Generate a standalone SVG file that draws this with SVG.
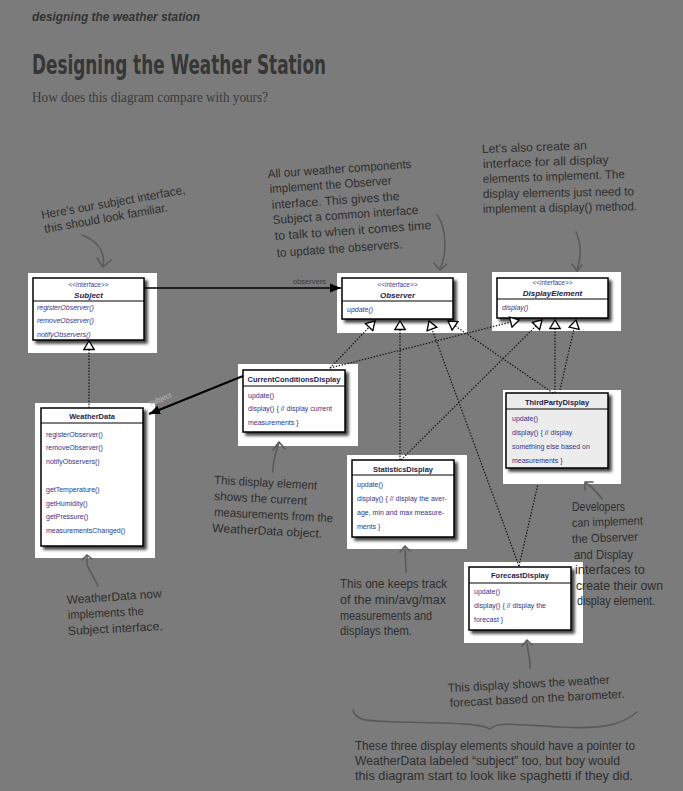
<svg xmlns="http://www.w3.org/2000/svg" width="683" height="791" viewBox="0 0 683 791">
<defs>
<style>
.hdr{font-family:"Liberation Sans",Arial,sans-serif;font-weight:bold;font-style:italic;font-size:13px;fill:#333}
.ttl{font-family:"Liberation Sans Narrow","DejaVu Sans Condensed","Liberation Sans",sans-serif;font-weight:bold;font-size:27px;fill:#363636}
.sub{font-family:"Liberation Serif","Times New Roman",serif;font-size:14px;fill:#3a3a3a}
.note{font-family:"Liberation Sans Narrow","Liberation Sans",sans-serif;font-size:12px;fill:#2e2e2e}
.back{fill:#fff}
.box{fill:#fff;stroke:#000;stroke-width:1.5}
.div{stroke:#000;stroke-width:1.2}
.st{font-family:"Liberation Sans",Arial,sans-serif;font-size:6.5px;fill:#3a3a99;text-anchor:middle}
.iname{font-family:"Liberation Sans",Arial,sans-serif;font-size:8px;font-weight:bold;font-style:italic;fill:#1c1c50;text-anchor:middle}
.cname{font-family:"Liberation Sans",Arial,sans-serif;font-size:7.5px;font-weight:bold;fill:#1c1c50;text-anchor:middle}
.m{font-family:"Liberation Sans",Arial,sans-serif;font-size:7px;fill:#33338a}
.mi{font-family:"Liberation Sans",Arial,sans-serif;font-size:7px;font-style:italic;fill:#33338a}
.dot{fill:none;stroke:#111;stroke-width:1.2;stroke-dasharray:1.4 1.6}
.solid{fill:none;stroke:#000;stroke-width:1.5}
.hand{fill:none;stroke:#5a5a5a;stroke-width:1.6;stroke-linecap:round;stroke-linejoin:round}
.lbl{font-family:"Liberation Sans",Arial,sans-serif;font-size:7.5px;fill:#3a3a3a}
</style>
<filter id="sh" x="-10%" y="-10%" width="130%" height="130%">
<feDropShadow dx="3" dy="3" stdDeviation="1.8" flood-color="#000" flood-opacity="0.75"/>
</filter>
<marker id="tri" viewBox="0 0 12 12" refX="10.5" refY="6" markerWidth="12" markerHeight="12" markerUnits="userSpaceOnUse" orient="auto">
<path d="M2,0.8 L10.5,6 L2,11.2 Z" fill="#fff" stroke="#000" stroke-width="1.3"/>
</marker>
<marker id="arr" viewBox="0 0 12 10" refX="11" refY="5" markerWidth="12" markerHeight="10" markerUnits="userSpaceOnUse" orient="auto">
<path d="M0,0.5 L11,5 L0,9.5 Z" fill="#000"/>
</marker>
</defs>

<rect x="0" y="0" width="683" height="791" fill="#7b7b7b"/>

<text class="hdr" x="32" y="21" textLength="168" lengthAdjust="spacingAndGlyphs">designing the weather station</text>
<text class="ttl" x="32" y="74" textLength="294" lengthAdjust="spacingAndGlyphs">Designing the Weather Station</text>
<text class="sub" x="32" y="102" textLength="236" lengthAdjust="spacingAndGlyphs">How does this diagram compare with yours?</text>

<!-- nodes -->
<g id="subject">
<rect class="back" x="28" y="273" width="129" height="80"/>
<rect class="box" x="33" y="278" width="111" height="62" filter="url(#sh)"/>
<line class="div" x1="33" y1="301" x2="144" y2="301"/>
<text class="st" x="88.5" y="287">&lt;&lt;interface&gt;&gt;</text>
<text class="iname" x="88.5" y="298">Subject</text>
<text class="mi" x="37" y="310">registerObserver()</text>
<text class="mi" x="37" y="323">removeObserver()</text>
<text class="mi" x="37" y="337">notifyObservers()</text>
</g>

<g id="observer">
<rect class="back" x="337" y="273" width="130" height="60"/>
<rect class="box" x="342" y="278" width="111" height="41" filter="url(#sh)"/>
<line class="div" x1="342" y1="301" x2="453" y2="301"/>
<text class="st" x="397.5" y="287">&lt;&lt;interface&gt;&gt;</text>
<text class="iname" x="397.5" y="298">Observer</text>
<text class="mi" x="347" y="312">update()</text>
</g>

<g id="displayelement">
<rect class="back" x="492" y="272" width="129" height="59"/>
<rect class="box" x="497" y="278" width="111" height="40" filter="url(#sh)"/>
<line class="div" x1="497" y1="299" x2="608" y2="299"/>
<text class="st" x="552.5" y="285">&lt;&lt;interface&gt;&gt;</text>
<text class="iname" x="552.5" y="296">DisplayElement</text>
<text class="mi" x="502" y="310">display()</text>
</g>

<g id="currentconditions">
<rect class="back" x="238" y="364" width="120" height="82"/>
<rect class="box" x="243" y="370" width="102" height="62" filter="url(#sh)"/>
<line class="div" x1="243" y1="386" x2="345" y2="386"/>
<text class="cname" x="294" y="382">CurrentConditionsDisplay</text>
<text class="m" x="248" y="398">update()</text>
<text class="m" x="248" y="411">display() { // display current</text>
<text class="m" x="248" y="425">measurements }</text>
</g>

<g id="weatherdata">
<rect class="back" x="35" y="403" width="120" height="155"/>
<rect class="box" x="41" y="408" width="102" height="138" filter="url(#sh)"/>
<line class="div" x1="41" y1="423" x2="143" y2="423"/>
<text class="cname" x="92" y="419">WeatherData</text>
<text class="m" x="46" y="437">registerObserver()</text>
<text class="m" x="46" y="450">removeObserver()</text>
<text class="m" x="46" y="464">notifyObservers()</text>
<text class="m" x="46" y="492">getTemperature()</text>
<text class="m" x="46" y="506">getHumidity()</text>
<text class="m" x="46" y="519">getPressure()</text>
<text class="m" x="46" y="533">measurementsChanged()</text>
</g>

<g id="statistics">
<rect class="back" x="347" y="455" width="120" height="94"/>
<rect class="box" x="352" y="460" width="102" height="77" filter="url(#sh)"/>
<line class="div" x1="352" y1="475" x2="454" y2="475"/>
<text class="cname" x="403" y="472">StatisticsDisplay</text>
<text class="m" x="357" y="487">update()</text>
<text class="m" x="357" y="501">display() { // display the aver-</text>
<text class="m" x="357" y="515">age, min and max measure-</text>
<text class="m" x="357" y="529">ments }</text>
</g>

<g id="thirdparty">
<rect class="back" x="503" y="390" width="118" height="94"/>
<rect class="box" x="506" y="393" width="102" height="75" fill="#ececec" style="fill:#ececec" filter="url(#sh)"/>
<line class="div" x1="506" y1="409" x2="608" y2="409"/>
<text class="cname" x="557" y="405">ThirdPartyDisplay</text>
<text class="m" x="512" y="421">update()</text>
<text class="m" x="512" y="435">display() { // display</text>
<text class="m" x="512" y="449">something else based on</text>
<text class="m" x="512" y="463">measurements }</text>
</g>

<g id="forecast">
<rect class="back" x="464" y="562" width="119" height="81"/>
<rect class="box" x="469" y="567" width="102" height="63" filter="url(#sh)"/>
<line class="div" x1="469" y1="583" x2="571" y2="583"/>
<text class="cname" x="520" y="578">ForecastDisplay</text>
<text class="m" x="474" y="594">update()</text>
<text class="m" x="474" y="608">display() { // display the</text>
<text class="m" x="474" y="622">forecast }</text>
</g>

<!-- connectors -->
<g id="connectors">
<line class="solid" x1="144" y1="288" x2="341" y2="288" marker-end="url(#arr)"/>
<text class="lbl" x="293" y="284">observers</text>
<line class="solid" x1="243" y1="376" x2="149" y2="414" marker-end="url(#arr)" style="stroke-width:2"/>
<text class="lbl" x="150" y="406" transform="rotate(-22 150 406)" style="fill:#bdbdbd">subject</text>
<path class="dot" d="M89,408 L89,341" marker-end="url(#tri)"/>
<path class="dot" d="M330,368 L375,321" marker-end="url(#tri)"/>
<path class="dot" d="M400,460 L400,321" marker-end="url(#tri)"/>
<path class="dot" d="M519,566 L429,321" marker-end="url(#tri)"/>
<path class="dot" d="M553,393 L448,321" marker-end="url(#tri)"/>
<path class="dot" d="M330,368 L519,320" marker-end="url(#tri)"/>
<path class="dot" d="M401,460 L542,320" marker-end="url(#tri)"/>
<path class="dot" d="M555,393 L555,320" marker-end="url(#tri)"/>
<path class="dot" d="M519,566 L538,484 M560,390 L576,320" marker-end="url(#tri)"/>
</g>

<!-- annotations -->
<text class="note" x="42" y="219" transform="rotate(-10 42 219)" textLength="146" lengthAdjust="spacingAndGlyphs">Here’s our subject interface,</text>
<text class="note" x="45" y="233" transform="rotate(-10 45 233)" textLength="125" lengthAdjust="spacingAndGlyphs">this should look familiar.</text>
<path class="hand" d="M82,235 C95,240 106,250 103,266"/>
<path class="hand" d="M97,258 L103,267 L111,260"/>

<text class="note" x="268" y="178" transform="rotate(-4 268 178)" textLength="144" lengthAdjust="spacingAndGlyphs">All our weather components</text>
<text class="note" x="270" y="193" transform="rotate(-4 270 193)" textLength="122" lengthAdjust="spacingAndGlyphs">implement the Observer</text>
<text class="note" x="272" y="209" transform="rotate(-4 272 209)" textLength="128" lengthAdjust="spacingAndGlyphs">interface. This gives the</text>
<text class="note" x="273" y="224" transform="rotate(-4 273 224)" textLength="146" lengthAdjust="spacingAndGlyphs">Subject a common interface</text>
<text class="note" x="275" y="240" transform="rotate(-4 275 240)" textLength="157" lengthAdjust="spacingAndGlyphs">to talk to when it comes time</text>
<text class="note" x="277" y="257" transform="rotate(-4 277 257)" textLength="126" lengthAdjust="spacingAndGlyphs">to update the observers.</text>
<path class="hand" d="M437,215 C447,228 447,255 440,269"/>
<path class="hand" d="M434,263 L440,270 L447,264"/>

<text class="note" x="482" y="153" transform="rotate(-2 482 153)" textLength="105" lengthAdjust="spacingAndGlyphs">Let’s also create an</text>
<text class="note" x="483" y="168" transform="rotate(-2 483 168)" textLength="126" lengthAdjust="spacingAndGlyphs">interface for all display</text>
<text class="note" x="483" y="183" transform="rotate(-2 483 183)" textLength="142" lengthAdjust="spacingAndGlyphs">elements to implement. The</text>
<text class="note" x="483" y="198" transform="rotate(-1 483 198)" textLength="151" lengthAdjust="spacingAndGlyphs">display elements just need to</text>
<text class="note" x="483" y="213" transform="rotate(-1 483 213)" textLength="154" lengthAdjust="spacingAndGlyphs">implement a display() method.</text>
<path class="hand" d="M576,232 C582,245 581,258 577,270"/>
<path class="hand" d="M572,264 L577,271 L582,265"/>

<text class="note" x="214" y="484" transform="rotate(3 214 484)" textLength="103" lengthAdjust="spacingAndGlyphs">This display element</text>
<text class="note" x="214" y="500" transform="rotate(3 214 500)" textLength="93" lengthAdjust="spacingAndGlyphs">shows the current</text>
<text class="note" x="214" y="516" transform="rotate(3 214 516)" textLength="119" lengthAdjust="spacingAndGlyphs">measurements from the</text>
<text class="note" x="212" y="532" transform="rotate(3 212 532)" textLength="110" lengthAdjust="spacingAndGlyphs">WeatherData object.</text>
<path class="hand" d="M273,472 C272,462 276,452 279,443"/>
<path class="hand" d="M273,450 L279,442 L285,449"/>

<text class="note" x="67" y="604" transform="rotate(-4 67 604)" textLength="95" lengthAdjust="spacingAndGlyphs">WeatherData now</text>
<text class="note" x="68" y="619" transform="rotate(-3 68 619)" textLength="76" lengthAdjust="spacingAndGlyphs">implements the</text>
<text class="note" x="68" y="635" transform="rotate(-3 68 635)" textLength="95" lengthAdjust="spacingAndGlyphs">Subject interface.</text>
<path class="hand" d="M98,586 L87,565 L87,556"/>
<path class="hand" d="M82,560 L87,555 L92,559"/>

<text class="note" x="340" y="588" textLength="107" lengthAdjust="spacingAndGlyphs">This one keeps track</text>
<text class="note" x="340" y="604" textLength="106" lengthAdjust="spacingAndGlyphs">of the min/avg/max</text>
<text class="note" x="340" y="620" textLength="92" lengthAdjust="spacingAndGlyphs">measurements and</text>
<text class="note" x="340" y="635" textLength="72" lengthAdjust="spacingAndGlyphs">displays them.</text>
<path class="hand" d="M406,572 L405,547"/>
<path class="hand" d="M400,552 L405,546 L410,551"/>

<text class="note" x="572" y="511" textLength="53" lengthAdjust="spacingAndGlyphs">Developers</text>
<text class="note" x="572" y="527" transform="rotate(-2 572 527)" textLength="71" lengthAdjust="spacingAndGlyphs">can implement</text>
<text class="note" x="572" y="543" transform="rotate(-2 572 543)" textLength="66" lengthAdjust="spacingAndGlyphs">the Observer</text>
<text class="note" x="574" y="559" textLength="59" lengthAdjust="spacingAndGlyphs">and Display</text>
<text class="note" x="575" y="574" textLength="70" lengthAdjust="spacingAndGlyphs">interfaces to</text>
<text class="note" x="576" y="590" textLength="87" lengthAdjust="spacingAndGlyphs">create their own</text>
<text class="note" x="577" y="605" textLength="78" lengthAdjust="spacingAndGlyphs">display element.</text>
<path class="hand" d="M602,499 C597,492 592,487 586,483"/>
<path class="hand" d="M585,490 L585,482 L593,482"/>

<text class="note" x="448" y="692" transform="rotate(-3 448 692)" textLength="162" lengthAdjust="spacingAndGlyphs">This display shows the weather</text>
<text class="note" x="450" y="707" transform="rotate(-3 450 707)" textLength="175" lengthAdjust="spacingAndGlyphs">forecast based on the barometer.</text>
<path class="hand" d="M530,668 C531,660 527,650 527,641"/>
<path class="hand" d="M522,646 L527,640 L532,645"/>

<path class="hand" d="M353,710 C356,722 370,721 400,722 S480,722 490,729 C497,722 510,724 560,727 S625,722 637,712"/>

<text class="note" x="355" y="750" textLength="280" lengthAdjust="spacingAndGlyphs">These three display elements should have a pointer to</text>
<text class="note" x="355" y="765" textLength="265" lengthAdjust="spacingAndGlyphs">WeatherData labeled “subject” too, but boy would</text>
<text class="note" x="355" y="780" textLength="278" lengthAdjust="spacingAndGlyphs">this diagram start to look like spaghetti if they did.</text>
</svg>
